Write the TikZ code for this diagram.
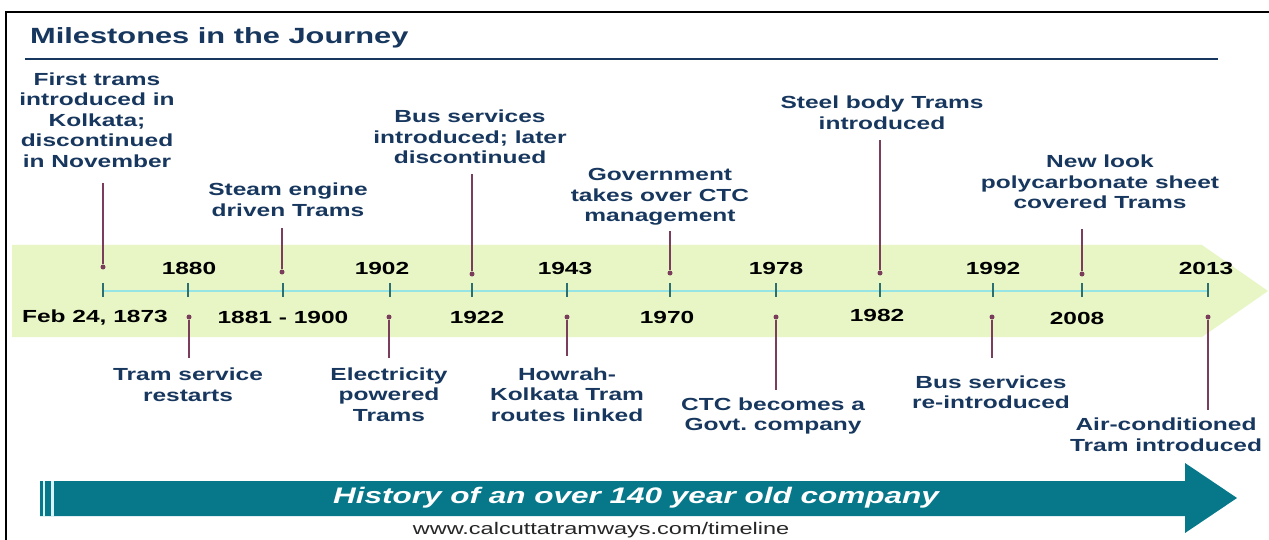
\documentclass[tikz,border=0pt]{standalone}
\usepackage{fontspec}
\newfontfamily\slidefont[FakeStretch=1.4]{Liberation Sans}

\definecolor{navy}{RGB}{23,55,94}
\definecolor{stemc}{RGB}{122,62,92}
\definecolor{bandc}{RGB}{232,246,198}
\definecolor{axisc}{RGB}{150,228,228}
\definecolor{tickc}{RGB}{45,110,110}
\definecolor{tealc}{RGB}{6,120,138}
\definecolor{gapc}{RGB}{215,245,248}

\tikzset{
  lbl/.style={font=\slidefont\bfseries\fontsize{17.5}{20.5}\selectfont, text=navy, align=center, inner sep=0pt},
  yr/.style={font=\slidefont\bfseries\fontsize{17.5}{20.5}\selectfont, text=black, inner sep=0pt},
  dot/.style={circle, fill=stemc, inner sep=0pt, minimum size=5pt},
  stem/.style={draw=stemc, line width=1.5pt},
  tickmark/.style={draw=tickc, line width=1.3pt}
}

\begin{document}
\begin{tikzpicture}[x=1pt, y=-1pt]
    \fill[white] (0,0) rectangle (1269,540);
    \useasboundingbox (0,0) rectangle (1269,540);

    % frame and heading
    \draw[line width=2.5pt] (1269,12) -- (6,12) -- (6,540);
    \node[anchor=west, inner sep=0pt, text=navy, font=\slidefont\bfseries\fontsize{22}{26}\selectfont] (title) at (30,38) {Milestones in the Journey};
    \draw[navy, line width=1.2pt] (25,59) -- (1218,59);

    % band and axis
    \fill[bandc] (12,245) -- (1202,245) -- (1268,291) -- (1202,337) -- (12,337) -- cycle;
    \draw[axisc, line width=1.5pt] (103,291) -- (1208,291);
    \foreach \x in {103,188,283,390,472,567,670,776,880,993,1082,1208}
    \draw[tickmark] (\x,283) -- (\x,297);

    % years
    \node[yr] (y1880) at (189,268) {1880};
    \node[yr] (y1902) at (382,268) {1902};
    \node[yr] (y1943) at (565,268) {1943};
    \node[yr] (y1978) at (776,268) {1978};
    \node[yr] (y1992) at (993,268) {1992};
    \node[yr] (y2013) at (1206,268) {2013};
    \node[yr] (y1873) at (95,318) {Feb 24, 1873};
    \node[yr] (y1881) at (283,317) {1881 - 1900};
    \node[yr] (y1922) at (477,317) {1922};
    \node[yr] (y1970) at (667,317) {1970};
    \node[yr] (y1982) at (877,315) {1982};
    \node[yr] (y2008) at (1077,318) {2008};

    % dots
    \node[dot] (d1873) at (103,267) {};
    \node[dot] (d1881) at (282,272) {};
    \node[dot] (d1922) at (472,274) {};
    \node[dot] (d1970) at (670,273) {};
    \node[dot] (d1982) at (880,273) {};
    \node[dot] (d2008) at (1082,274) {};
    \node[dot] (d1880) at (189,317) {};
    \node[dot] (d1902) at (389,317) {};
    \node[dot] (d1943) at (567,317) {};
    \node[dot] (d1978) at (776,317) {};
    \node[dot] (d1992) at (992,317) {};
    \node[dot] (d2013) at (1208,317) {};

    % milestones above
    \node[lbl] (l1873) at (97,120) {First trams\\introduced in\\Kolkata;\\discontinued\\in November};
    \node[lbl] (l1881) at (288,199.5) {Steam engine\\driven Trams};
    \node[lbl] (l1922) at (470,137) {Bus services\\introduced; later\\discontinued};
    \node[lbl] (l1970) at (660,197) {Government\\takes over CTC\\management};
    \node[lbl] (l1982) at (882,112.5) {Steel body Trams\\introduced};
    \node[lbl] (l2008) at (1100,182) {New look\\polycarbonate sheet\\covered Trams};

    % milestones below
    \node[lbl] (l1880) at (188,384.5) {Tram service\\restarts};
    \node[lbl] (l1902) at (389,394.5) {Electricity\\powered\\Trams};
    \node[lbl] (l1943) at (567,394.5) {Howrah-\\Kolkata Tram\\routes linked};
    \node[lbl] (l1978) at (773,416) {CTC becomes a\\Govt.\ company};
    \node[lbl] (l1992) at (991,392) {Bus services\\re-introduced};
    \node[lbl] (l2013) at (1166,434.5) {Air-conditioned\\Tram introduced};

    \draw[stem, shorten >=15.5pt] (d1873) -- (d1873 |- l1873.south);
    \draw[stem, shorten >=11.5pt] (d1881) -- (d1881 |- l1881.south);
    \draw[stem, shorten >=9.5pt] (d1922) -- (d1922 |- l1922.south);
    \draw[stem, shorten >=5pt] (d1970) -- (d1970 |- l1970.south);
    \draw[stem, shorten >=10.5pt] (d1982) -- (d1982 |- l1982.south);
    \draw[stem, shorten >=19.5pt] (d2008) -- (d2008 |- l2008.south);
    \draw[stem, shorten >=9.5pt] (d1880) -- (d1880 |- l1880.north);
    \draw[stem, shorten >=9.5pt] (d1902) -- (d1902 |- l1902.north);
    \draw[stem, shorten >=11.5pt] (d1943) -- (d1943 |- l1943.north);
    \draw[stem, shorten >=7.5pt] (d1978) -- (d1978 |- l1978.north);
    \draw[stem, shorten >=17.5pt] (d1992) -- (d1992 |- l1992.north);
    \draw[stem, shorten >=7.5pt] (d2013) -- (d2013 |- l2013.north);

    % history arrow
    \fill[tealc] (40,481) -- (1185,481) -- (1185,463) -- (1237,498) -- (1185,533) -- (1185,516) -- (40,516) -- cycle;
    \draw[gapc, line width=2.5pt] (43.75,481) -- (43.75,516);
    \draw[gapc, line width=3pt] (52.5,481) -- (52.5,516);
    \node[text=white, inner sep=0pt, font=\slidefont\bfseries\itshape\fontsize{22.5}{27}\selectfont] (hist) at (636,498) {History of an over 140 year old company};
    \node[text=black!85, inner sep=0pt, font=\slidefont\fontsize{16.8}{20}\selectfont] (url) at (601,530) {www.calcuttatramways.com/timeline};
\end{tikzpicture}
\end{document}
